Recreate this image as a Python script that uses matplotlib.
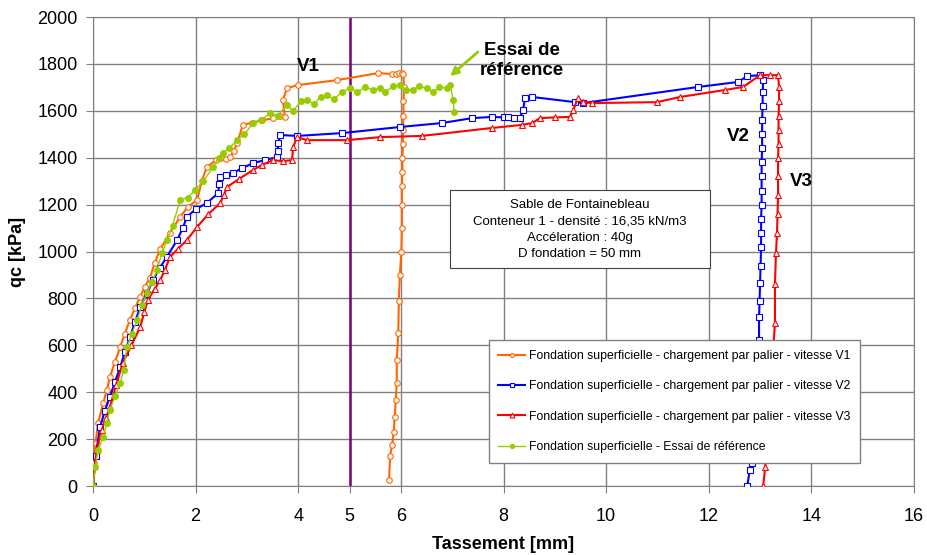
import matplotlib
matplotlib.use("Agg")
import matplotlib.pyplot as plt
from matplotlib.patches import Rectangle

plt.rcParams['font.family'] = ['Liberation Sans', 'DejaVu Sans']

# V1 - orange, open circles
v1_x = [0, 0.02, 0.05, 0.1, 0.2, 0.27, 0.33, 0.43, 0.53, 0.62, 0.72, 0.82, 0.92, 1.01, 1.11, 1.2, 1.31, 1.5,
        1.7, 1.85, 2.03, 2.12, 2.22, 2.4, 2.5, 2.6, 2.67, 2.75, 2.81, 2.92, 3.1, 3.3, 3.5, 3.65, 3.74, 3.7,
        3.78, 4.0, 4.76, 5.56, 5.83, 5.9, 5.97, 6.02, 6.05, 6.06, 6.05, 6.05, 6.04, 6.04, 6.03, 6.03, 6.02,
        6.02, 6.02, 6.01, 5.98, 5.96, 5.95, 5.92, 5.92, 5.90, 5.88, 5.86, 5.83, 5.79, 5.77]
v1_y = [0, 100, 183, 270, 354, 410, 465, 530, 593, 650, 708, 760, 806, 850, 887, 950, 1010, 1080,
        1148, 1190, 1220, 1300, 1361, 1390, 1400, 1395, 1404, 1430, 1463, 1540, 1550, 1560, 1568, 1580, 1574, 1646,
        1697, 1710, 1731, 1761, 1757, 1755, 1760, 1761, 1758, 1700, 1640, 1580, 1520, 1460, 1400, 1340, 1280,
        1200, 1100, 1000, 900, 791, 652, 537, 439, 367, 294, 230, 175, 128, 68]
v1_x = v1_x[:-2] + [5.79, 5.77]
v1_y = v1_y[:-1] + [26, 0]
v1_y = v1_y[:len(v1_x)]

# V2 - blue, open squares
v2_x = [0, 0.05, 0.14, 0.23, 0.33, 0.43, 0.53, 0.62, 0.72, 0.82, 0.92, 1.05, 1.17, 1.3, 1.44, 1.64, 1.75,
        1.83, 2.0, 2.22, 2.44, 2.46, 2.48, 2.6, 2.73, 2.9, 3.12, 3.35, 3.59, 3.6, 3.61, 3.65, 3.98, 4.85,
        5.98, 6.8, 7.39, 7.78, 8.0, 8.09, 8.2, 8.32, 8.38, 8.42, 8.56, 9.40, 9.55, 11.8, 12.57, 12.75, 13.0,
        13.06, 13.05, 13.05, 13.04, 13.04, 13.04, 13.03, 13.03, 13.03, 13.03, 13.02, 13.02, 13.02, 13.01,
        13.0, 12.99, 12.98, 12.98, 12.96, 12.94, 12.92, 12.9, 12.87, 12.84, 12.8, 12.75]
v2_y = [0, 130, 252, 320, 380, 445, 507, 570, 635, 700, 763, 820, 878, 930, 977, 1049, 1100,
        1148, 1180, 1207, 1249, 1290, 1318, 1325, 1335, 1355, 1377, 1390, 1403, 1430, 1463, 1497, 1493, 1505,
        1531, 1548, 1569, 1574, 1572, 1574, 1570, 1569, 1603, 1654, 1659, 1637, 1633, 1702, 1723, 1748, 1752,
        1731, 1680, 1620, 1560, 1500, 1440, 1380, 1320, 1260, 1200, 1140, 1080, 1020, 940,
        866, 790, 720, 622, 540, 460, 380, 300, 200, 98, 68, 0]

# V3 - red, open triangles
v3_x = [0, 0.07, 0.17, 0.25, 0.33, 0.45, 0.58, 0.75, 0.92, 1.0, 1.07, 1.2, 1.31, 1.4, 1.5, 1.65, 1.83,
        2.03, 2.25, 2.48, 2.55, 2.61, 2.85, 3.12, 3.3, 3.51, 3.7, 3.88, 3.9, 3.98, 4.17, 4.95, 5.6, 6.41,
        7.78, 8.36, 8.56, 8.71, 9.0, 9.3, 9.36, 9.45, 9.55, 9.73, 10.99, 11.44, 12.32, 12.67, 13.0, 13.2,
        13.35, 13.37, 13.37, 13.36, 13.36, 13.36, 13.35, 13.35, 13.35, 13.34, 13.33, 13.31, 13.29, 13.29,
        13.26, 13.23, 13.2, 13.16, 13.1, 13.06]
v3_y = [0, 154, 239, 290, 337, 430, 524, 600, 678, 740, 793, 840, 878, 920, 977, 1010, 1049,
        1105, 1160, 1207, 1240, 1275, 1310, 1348, 1370, 1390, 1385, 1390, 1446, 1488, 1475, 1475, 1488, 1493,
        1527, 1540, 1548, 1569, 1572, 1574, 1603, 1654, 1637, 1633, 1637, 1659, 1689, 1702, 1752, 1752,
        1752, 1700, 1640, 1580, 1520, 1460, 1400, 1320, 1240, 1160, 1080, 993, 860, 695,
        600, 480, 360, 240, 81, 0]

# Essai de reference - green, filled circles
ref_x = [0, 0.04, 0.1, 0.2, 0.27, 0.33, 0.43, 0.53, 0.6, 0.66, 0.76, 0.86, 0.95, 1.05, 1.15, 1.25, 1.34,
         1.45, 1.55, 1.7, 1.85, 1.99, 2.15, 2.34, 2.45, 2.53, 2.65, 2.81, 2.95, 3.12, 3.28, 3.45, 3.6, 3.78,
         3.9, 4.05, 4.17, 4.3, 4.45, 4.56, 4.7, 4.85, 5.01, 5.15, 5.3, 5.45, 5.59, 5.7, 5.85, 5.98, 6.1,
         6.24, 6.35, 6.51, 6.62, 6.75, 6.9, 6.96, 7.02, 7.04]
ref_y = [0, 81, 154, 209, 270, 324, 383, 439, 495, 593, 650, 708, 770, 823, 870, 921, 993,
         1050, 1110, 1220, 1230, 1262, 1300, 1360, 1400, 1420, 1440, 1475, 1500, 1548, 1560, 1590, 1580, 1625,
         1600, 1640, 1646, 1630, 1660, 1667, 1650, 1680, 1697, 1680, 1700, 1690, 1697, 1680, 1705, 1710, 1690,
         1689, 1705, 1697, 1680, 1700, 1697, 1710, 1646, 1595]

info_lines = ['Sable de Fontainebleau', 'Conteneur 1 - densité : 16,35 kN/m3',
              'Accéleration : 40g', 'D fondation = 50 mm']

fig = plt.figure(figsize=(9.27, 5.55), dpi=100)
ax = fig.add_axes([0.1003, 0.1243, 0.8857, 0.845])

ax.axvline(5, color='#800080', lw=1.8, zorder=1)

ax.plot(v1_x, v1_y, color='#FF6600', lw=1.5, marker='o', ms=4, mfc='white', mec='#FF6600', mew=0.8,
        label='Fondation superficielle - chargement par palier - vitesse V1', zorder=3)
ax.plot(v2_x, v2_y, color='#0000FF', lw=1.5, marker='s', ms=4.5, mfc='white', mec='#0000FF', mew=0.8,
        label='Fondation superficielle - chargement par palier - vitesse V2', zorder=3)
ax.plot(v3_x, v3_y, color='#FF0000', lw=1.5, marker='^', ms=5, mfc='white', mec='#FF0000', mew=0.8,
        label='Fondation superficielle - chargement par palier - vitesse V3', zorder=3)
ax.plot(ref_x, ref_y, color='#99CC00', lw=1, marker='o', ms=4, mfc='#99CC00', mec='#99CC00',
        label='Fondation superficielle - Essai de référence', zorder=4)

ax.set_xlim(0, 16)
ax.set_ylim(0, 2000)
ax.set_xticks([0, 2, 4, 5, 6, 8, 10, 12, 14, 16])
ax.set_yticks(range(0, 2001, 200))
ax.grid(True, color='#808080', lw=1)
ax.set_axisbelow(True)
for s in ax.spines.values():
    s.set_color('#808080')
ax.tick_params(labelsize=13, color='#808080', length=5)
ax.tick_params(axis='x', pad=11)
ax.tick_params(axis='y', pad=6)
ax.set_xlabel('Tassement [mm]', fontsize=13, fontweight='bold', labelpad=8)
ax.set_ylabel('qc [kPa]', fontsize=13, fontweight='bold', labelpad=8)

ax.text(4.2, 1790, 'V1', fontsize=13.5, fontweight='bold', ha='center', va='center')
ax.text(12.57, 1489, 'V2', fontsize=13.5, fontweight='bold', ha='center', va='center')
ax.text(13.8, 1300, 'V3', fontsize=13.5, fontweight='bold', ha='center', va='center')
ax.text(8.36, 1815, 'Essai de\nréférence', fontsize=13.5, fontweight='bold', ha='center', va='center',
        linespacing=1.25)
ax.annotate('', xy=(6.96, 1748), xytext=(7.5, 1851),
            arrowprops=dict(arrowstyle='-|>', color='#99CC00', lw=2, shrinkA=0, shrinkB=0,
                            mutation_scale=12))

ax.add_patch(Rectangle((6.96, 930), 12.03 - 6.96, 1262 - 930, fc='white', ec='#404040', lw=0.8, zorder=5))
ax.text(9.49, 1093, '\n'.join(info_lines), fontsize=9.5, ha='center', va='center',
        linespacing=1.5, zorder=6)

leg = ax.legend(loc='upper left', bbox_to_anchor=(0.4745, 0.324), fontsize=8.8, frameon=True,
                fancybox=False, edgecolor='#808080', framealpha=1, labelspacing=1.5, handlelength=2.2,
                borderpad=0.8, handletextpad=0.3, markerscale=0.7)
leg.get_frame().set_linewidth(1)
leg.set_zorder(7)

fig.savefig('out.png', dpi=100)
